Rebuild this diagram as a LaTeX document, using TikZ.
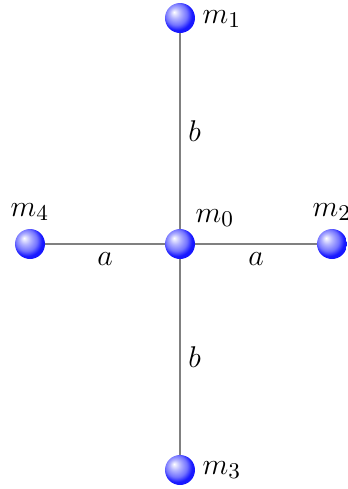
\documentclass[tikz,border=0pt]{standalone}
\usetikzlibrary{backgrounds}
\pgfdeclareradialshading{lightball}{\pgfqpoint{-10bp}{10bp}}{color(0bp)=(white); color(9bp)=(blue!30!white); color(18bp)=(blue!55!white); color(25bp)=(blue!90!white); color(50bp)=(blue)}
\begin{document}
\begin{tikzpicture}[x=0.4pt,y=-0.4pt,
  mass/.style={circle,minimum size=12pt,inner sep=0pt,shading=lightball},
  rod/.style={gray,line width=0.8pt},
  lbl/.style={inner sep=1pt,font=\fontsize{13}{15}\selectfont}]
\useasboundingbox (0,0) rectangle (348,489);
\node[mass] (b0) at (180,244) {};
\node[mass] (b1) at (180,18) {};
\node[mass] (b2) at (332,244) {};
\node[mass] (b3) at (180,470) {};
\node[mass] (b4) at (30,244) {};
\node[lbl] (l1) at (222,19) {$m_1$};
\node[lbl] (l0) at (215,218) {$m_0$};
\node[lbl] (l2) at (332,212) {$m_2$};
\node[lbl] (l3) at (222,470) {$m_3$};
\node[lbl] (l4) at (30,212) {$m_4$};
\begin{scope}[on background layer]
\draw[rod] (b1.center) -- node[lbl,black,right=2pt] (lb1) {$b$} (b0.center);
\draw[rod] (b0.center) -- node[lbl,black,right=2pt] (lb2) {$b$} (b3.center);
\draw[rod] (b4.center) -- node[lbl,black,below=2pt] (la1) {$a$} (b0.center);
\draw[rod] (b0.center) -- node[lbl,black,below=2pt] (la2) {$a$} (b2.center);
\end{scope}
\end{tikzpicture}
\end{document}
